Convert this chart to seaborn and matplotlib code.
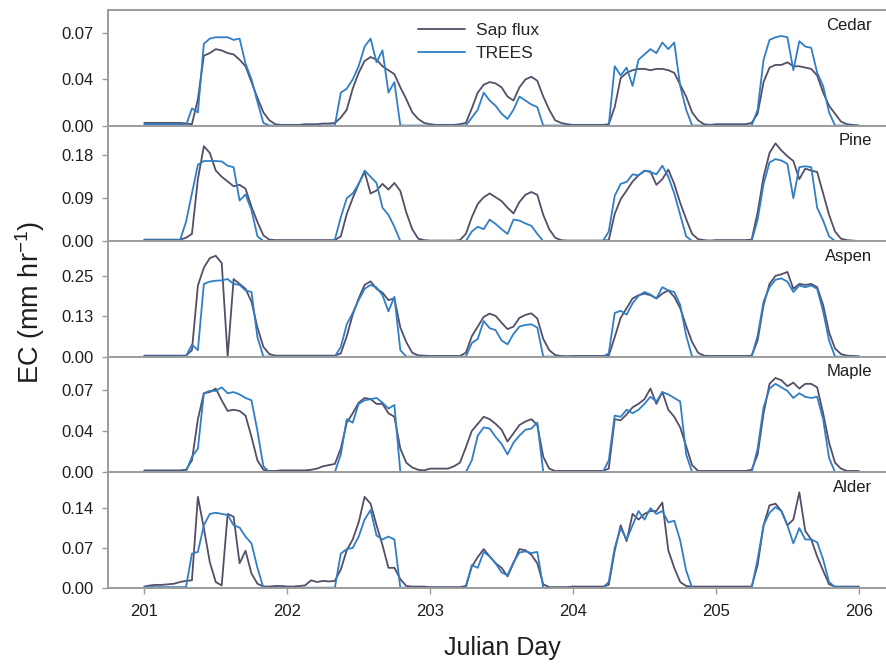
import numpy as np
import pandas as pd
import matplotlib
matplotlib.use("Agg")
import matplotlib.pyplot as plt
import seaborn as sns

# ---------------- data (hourly, Julian day 201.0 -> 206.0) ----------------
start_day = 201
species = ["Cedar", "Pine", "Aspen", "Maple", "Alder"]
series_names = ["Sap flux", "TREES"]

cedar_sap = (
    [0.002]*7 + [0.0015, 0.001, 0.02, 0.053, 0.055, 0.058, 0.057, 0.055, 0.054, 0.050, 0.045, 0.033, 0.021, 0.010, 0.004, 0.001, 0.0005]
    + [0.0005, 0.0005, 0.0005, 0.001, 0.001, 0.001, 0.0015, 0.0015, 0.002, 0.006, 0.012, 0.028, 0.040, 0.049, 0.052, 0.050, 0.045, 0.042, 0.039, 0.029, 0.020, 0.010, 0.005, 0.002]
    + [0.001, 0.0005, 0.0005, 0.0005, 0.0005, 0.001, 0.002, 0.013, 0.025, 0.031, 0.033, 0.032, 0.029, 0.022, 0.019, 0.029, 0.035, 0.037, 0.034, 0.022, 0.012, 0.004, 0.002, 0.001]
    + [0.0005]*6 + [0.001, 0.014, 0.036, 0.040, 0.042, 0.043, 0.043, 0.042, 0.043, 0.043, 0.042, 0.040, 0.031, 0.022, 0.010, 0.004, 0.001, 0.0005]
    + [0.001]*6 + [0.002, 0.009, 0.033, 0.044, 0.046, 0.046, 0.048, 0.045, 0.045, 0.044, 0.043, 0.038, 0.025, 0.015, 0.009, 0.003, 0.001, 0.0005]
    + [0.0]
)
cedar_trees = (
    [0.001]*7 + [0.0, 0.013, 0.01, 0.062, 0.066, 0.067, 0.067, 0.067, 0.065, 0.066, 0.047, 0.035, 0.018, 0.002, 0.0, 0.0, 0.0]
    + [0.0]*9 + [0.025, 0.028, 0.035, 0.045, 0.060, 0.066, 0.048, 0.057, 0.025, 0.033] + [0.0]*5
    + [0.0]*7 + [0.006, 0.012, 0.025, 0.019, 0.015, 0.009, 0.005, 0.012, 0.022, 0.019, 0.016, 0.014] + [0.0]*5
    + [0.0]*7 + [0.045, 0.038, 0.044, 0.030, 0.050, 0.054, 0.058, 0.055, 0.063, 0.058, 0.063, 0.030, 0.012] + [0.0]*4
    + [0.0]*7 + [0.012, 0.050, 0.065, 0.067, 0.068, 0.067, 0.042, 0.064, 0.060, 0.059, 0.040, 0.030, 0.010] + [0.0]*4
    + [0.0]
)
pine_sap = (
    [0.003]*7 + [0.007, 0.015, 0.13, 0.199, 0.185, 0.148, 0.135, 0.125, 0.115, 0.118, 0.110, 0.072, 0.040, 0.012, 0.003, 0.002, 0.002]
    + [0.002]*9 + [0.010, 0.057, 0.09, 0.12, 0.145, 0.10, 0.106, 0.12, 0.108, 0.122, 0.105, 0.06, 0.025, 0.005, 0.002]
    + [0.001]*5 + [0.002, 0.015, 0.05, 0.078, 0.092, 0.100, 0.092, 0.084, 0.070, 0.058, 0.082, 0.097, 0.103, 0.097, 0.055, 0.025, 0.007, 0.002, 0.001]
    + [0.001]*6 + [0.002, 0.057, 0.088, 0.106, 0.125, 0.138, 0.147, 0.146, 0.118, 0.13, 0.15, 0.120, 0.080, 0.046, 0.015, 0.004, 0.002, 0.001]
    + [0.002]*6 + [0.003, 0.06, 0.135, 0.185, 0.205, 0.19, 0.178, 0.168, 0.13, 0.152, 0.148, 0.145, 0.10, 0.055, 0.02, 0.005, 0.002, 0.001]
    + [0.0]
)
pine_trees = (
    [0.002]*7 + [0.04, 0.10, 0.16, 0.168, 0.168, 0.168, 0.167, 0.158, 0.155, 0.085, 0.098, 0.065, 0.01] + [0.0]*4
    + [0.0]*8 + [0.003, 0.05, 0.09, 0.10, 0.12, 0.148, 0.135, 0.122, 0.07, 0.055, 0.03] + [0.0]*5
    + [0.0]*7 + [0.02, 0.03, 0.025, 0.045, 0.036, 0.025, 0.015, 0.045, 0.043, 0.037, 0.032, 0.015] + [0.0]*5
    + [0.0]*6 + [0.02, 0.095, 0.12, 0.124, 0.14, 0.138, 0.148, 0.145, 0.14, 0.158, 0.135, 0.1, 0.055, 0.01] + [0.0]*4
    + [0.0]*7 + [0.045, 0.12, 0.165, 0.172, 0.169, 0.162, 0.09, 0.155, 0.157, 0.155, 0.07, 0.043, 0.01] + [0.0]*4
    + [0.0]
)
aspen_sap = (
    [0.003]*8 + [0.02, 0.22, 0.275, 0.305, 0.312, 0.29, 0.0, 0.24, 0.225, 0.21, 0.17, 0.09, 0.03, 0.008, 0.003, 0.003]
    + [0.003]*9 + [0.01, 0.063, 0.13, 0.18, 0.222, 0.233, 0.21, 0.198, 0.175, 0.18, 0.09, 0.045, 0.012, 0.004, 0.003]
    + [0.002]*6 + [0.012, 0.063, 0.093, 0.123, 0.133, 0.126, 0.105, 0.085, 0.093, 0.12, 0.129, 0.134, 0.118, 0.055, 0.02, 0.005, 0.002, 0.001]
    + [0.002]*6 + [0.003, 0.06, 0.12, 0.15, 0.18, 0.19, 0.195, 0.19, 0.18, 0.195, 0.205, 0.185, 0.15, 0.095, 0.045, 0.012, 0.003, 0.002]
    + [0.002]*6 + [0.003, 0.05, 0.16, 0.225, 0.25, 0.255, 0.262, 0.21, 0.225, 0.222, 0.225, 0.215, 0.16, 0.075, 0.025, 0.008, 0.003, 0.002]
    + [0.001]
)
aspen_trees = (
    [0.001]*8 + [0.037, 0.02, 0.225, 0.232, 0.235, 0.236, 0.24, 0.225, 0.222, 0.205, 0.2, 0.06] + [0.0]*4
    + [0.0]*9 + [0.03, 0.10, 0.135, 0.175, 0.21, 0.222, 0.214, 0.19, 0.14, 0.185, 0.02] + [0.0]*4
    + [0.0]*7 + [0.042, 0.055, 0.11, 0.088, 0.082, 0.05, 0.038, 0.07, 0.093, 0.098, 0.1, 0.09] + [0.0]*5
    + [0.0]*6 + [0.01, 0.135, 0.142, 0.13, 0.165, 0.188, 0.2, 0.192, 0.18, 0.215, 0.205, 0.2, 0.16, 0.065] + [0.0]*4
    + [0.0]*7 + [0.065, 0.17, 0.215, 0.238, 0.242, 0.232, 0.2, 0.22, 0.215, 0.22, 0.21, 0.14, 0.05] + [0.0]*4
    + [0.0]
)
maple_sap = (
    [0.0015]*7 + [0.002, 0.01, 0.045, 0.067, 0.068, 0.071, 0.061, 0.052, 0.053, 0.052, 0.048, 0.030, 0.010, 0.002, 0.001, 0.001, 0.0015]
    + [0.0015]*4 + [0.002, 0.003, 0.005, 0.006, 0.007, 0.02, 0.042, 0.05, 0.059, 0.063, 0.062, 0.058, 0.058, 0.050, 0.047, 0.02, 0.008, 0.004, 0.002, 0.0015]
    + [0.003]*4 + [0.005, 0.008, 0.021, 0.035, 0.041, 0.047, 0.045, 0.041, 0.036, 0.026, 0.033, 0.040, 0.043, 0.045, 0.040, 0.013, 0.003, 0.001, 0.001, 0.001]
    + [0.001]*6 + [0.003, 0.045, 0.044, 0.049, 0.055, 0.058, 0.062, 0.071, 0.058, 0.068, 0.053, 0.047, 0.038, 0.022, 0.006, 0.001, 0.001, 0.001]
    + [0.001]*6 + [0.002, 0.015, 0.05, 0.075, 0.08, 0.078, 0.073, 0.076, 0.071, 0.075, 0.075, 0.072, 0.05, 0.025, 0.008, 0.003, 0.001, 0.001]
    + [0.001]
)
maple_trees = (
    [0.0005]*8 + [0.013, 0.02, 0.067, 0.069, 0.069, 0.072, 0.067, 0.068, 0.066, 0.063, 0.061, 0.035, 0.005] + [0.0]*3
    + [0.0]*9 + [0.015, 0.045, 0.042, 0.058, 0.061, 0.062, 0.063, 0.059, 0.054, 0.057] + [0.0]*5
    + [0.0]*7 + [0.01, 0.031, 0.038, 0.037, 0.030, 0.024, 0.015, 0.025, 0.031, 0.036, 0.037, 0.042] + [0.0]*5
    + [0.0]*6 + [0.01, 0.048, 0.047, 0.053, 0.05, 0.053, 0.058, 0.064, 0.06, 0.068, 0.066, 0.063, 0.06, 0.015] + [0.0]*4
    + [0.0]*7 + [0.02, 0.055, 0.071, 0.075, 0.072, 0.069, 0.063, 0.067, 0.064, 0.063, 0.064, 0.045, 0.012] + [0.0]*4
    + [0.0]
)
alder_sap = (
    [0.002, 0.004, 0.005, 0.005, 0.006, 0.007, 0.01, 0.012, 0.013, 0.16, 0.105, 0.045, 0.01, 0.004, 0.13, 0.125, 0.043, 0.065, 0.025, 0.007, 0.002, 0.002, 0.003, 0.003]
    + [0.002, 0.002, 0.003, 0.004, 0.013, 0.01, 0.012, 0.011, 0.012, 0.032, 0.066, 0.085, 0.115, 0.16, 0.148, 0.11, 0.075, 0.035, 0.035, 0.015, 0.003, 0.002, 0.002, 0.002]
    + [0.001]*6 + [0.003, 0.037, 0.054, 0.068, 0.055, 0.043, 0.035, 0.02, 0.043, 0.068, 0.066, 0.058, 0.043, 0.006, 0.001, 0.001, 0.001, 0.001]
    + [0.002]*6 + [0.005, 0.065, 0.11, 0.082, 0.13, 0.12, 0.13, 0.135, 0.135, 0.15, 0.066, 0.035, 0.01, 0.003, 0.002, 0.002, 0.002, 0.002]
    + [0.002]*7 + [0.04, 0.11, 0.145, 0.148, 0.135, 0.11, 0.12, 0.168, 0.1, 0.085, 0.055, 0.03, 0.006, 0.002, 0.002, 0.002, 0.002]
    + [0.002]
)
alder_trees = (
    [0.001]*8 + [0.06, 0.063, 0.11, 0.13, 0.132, 0.13, 0.128, 0.11, 0.106, 0.09, 0.078, 0.035] + [0.0]*4
    + [0.0]*9 + [0.06, 0.068, 0.07, 0.09, 0.12, 0.137, 0.092, 0.085, 0.09, 0.085] + [0.0]*5
    + [0.0]*7 + [0.04, 0.035, 0.063, 0.055, 0.043, 0.027, 0.022, 0.045, 0.062, 0.064, 0.061, 0.063] + [0.0]*5
    + [0.0]*6 + [0.01, 0.07, 0.105, 0.085, 0.11, 0.135, 0.12, 0.14, 0.13, 0.135, 0.115, 0.118, 0.083, 0.03] + [0.0]*4
    + [0.0]*7 + [0.05, 0.11, 0.132, 0.142, 0.135, 0.11, 0.078, 0.105, 0.085, 0.085, 0.08, 0.05, 0.01] + [0.001]*4
    + [0.001]
)

ytick_values = {
    "Cedar": [0.0, 0.035, 0.07], "Pine": [0.0, 0.09, 0.18], "Aspen": [0.0, 0.125, 0.25],
    "Maple": [0.0, 0.035, 0.07], "Alder": [0.0, 0.07, 0.14],
}
ytick_labels = {
    "Cedar": ["0.00", "0.04", "0.07"], "Pine": ["0.00", "0.09", "0.18"], "Aspen": ["0.00", "0.13", "0.25"],
    "Maple": ["0.00", "0.04", "0.07"], "Alder": ["0.00", "0.07", "0.14"],
}
ymax = {"Cedar": 0.0877, "Pine": 0.2424, "Aspen": 0.3576, "Maple": 0.0981, "Alder": 0.2035}
xtick_values = [201, 202, 203, 204, 205, 206]

values = {
    "Cedar": (cedar_sap, cedar_trees), "Pine": (pine_sap, pine_trees), "Aspen": (aspen_sap, aspen_trees),
    "Maple": (maple_sap, maple_trees), "Alder": (alder_sap, alder_trees),
}

rows = []
for sp in species:
    for name, arr in zip(series_names, values[sp]):
        if len(arr) != 121:
            raise ValueError(f"{sp} {name} has {len(arr)} values")
        day = start_day + np.arange(len(arr)) / 24.0
        for d, v in zip(day, arr):
            rows.append({"species": sp, "series": name, "day": d, "EC": v})
df = pd.DataFrame(rows)

# ---------------- style ----------------
sns.set_theme(style="white")
plt.rcParams["font.family"] = ["Liberation Sans", "DejaVu Sans"]
plt.rcParams["mathtext.fontset"] = "custom"
plt.rcParams["mathtext.rm"] = "Liberation Sans"
plt.rcParams["mathtext.it"] = "Liberation Sans"

palette = {"Sap flux": "#544e66", "TREES": "#2f7ec6"}
spine_col = "#9b9b9b"
text_col = "#1e1e1e"

W, H = 886, 665
fig = plt.figure(figsize=(W / 100, H / 100), dpi=100)
left = 108 / W
right = 1.0
top = 1 - 10 / H
bottom = 1 - 587.7 / H
ph = (top - bottom) / 5

axes = []
for i, sp in enumerate(species):
    ax = fig.add_axes([left, top - (i + 1) * ph, right - left, ph])
    axes.append(ax)
    sub = df[df["species"] == sp]
    sns.lineplot(data=sub, x="day", y="EC", hue="series", hue_order=series_names,
                 palette=palette, ax=ax, legend=(i == 0), linewidth=1.3,
                 estimator=None, sort=False)
    ax.set_xlim(200.746, 206.19)
    ax.set_ylim(0, ymax[sp])
    ax.set_yticks(ytick_values[sp])
    ax.set_yticklabels(ytick_labels[sp])
    ax.set_xticks(xtick_values)
    ax.set_xlabel("")
    ax.set_ylabel("")
    for s in ["left", "bottom", "top", "right"]:
        ax.spines[s].set_color(spine_col)
        ax.spines[s].set_linewidth(1.4)
    ax.spines["right"].set_visible(False)
    if i > 0:
        ax.spines["top"].set_visible(False)
    ax.tick_params(axis="y", which="both", left=True, length=4, width=1, color=spine_col,
                   labelsize=12, labelcolor=text_col, pad=6)
    if i == len(species) - 1:
        ax.tick_params(axis="x", bottom=True, length=4, width=1, color=spine_col,
                       labelsize=12, labelcolor=text_col, pad=8)
        ax.set_xticklabels([str(v) for v in xtick_values])
    else:
        ax.tick_params(axis="x", bottom=False, labelbottom=False)
    ax.patch.set_alpha(0)
    ax.text(0.982, 0.87, sp, transform=ax.transAxes, ha="right", va="center",
            fontsize=12, color=text_col)

# legend in top panel
h, l = axes[0].get_legend_handles_labels()
axes[0].legend(h, l, loc="upper left", bbox_to_anchor=(0.398, 0.89), frameon=False,
               fontsize=12.5, handlelength=2.75, handletextpad=0.6, labelspacing=0.45,
               borderpad=0, borderaxespad=0)

fig.text(0.034, 1 - 302 / H, "EC (mm hr$^{-1}$)", rotation=90, ha="center", va="center",
         fontsize=19.5, color=text_col)
fig.text(502 / W, 1 - 648 / H, "Julian Day", ha="center", va="center",
         fontsize=18, color=text_col)

fig.savefig("out.png", dpi=100)
